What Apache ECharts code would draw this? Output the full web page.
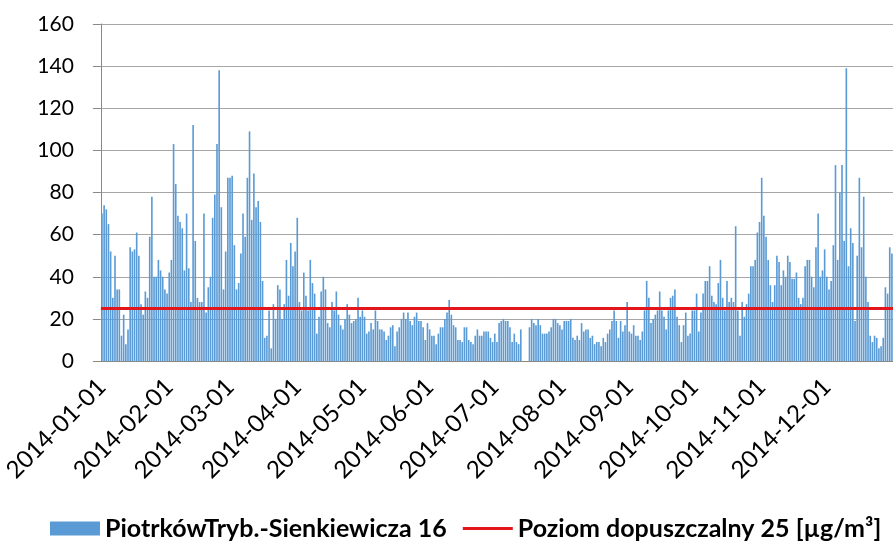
<!DOCTYPE html>
<html>
<head>
<meta charset="utf-8">
<script src="https://cdn.jsdelivr.net/npm/echarts@6/dist/echarts.min.js"></script>
<style>
  html, body { margin: 0; padding: 0; background: #fff; }
  #container { width: 893px; height: 544px; }
</style>
</head>
<body>
<div id="container"></div>
<script>
// daily PM values per month, 2014 (null = no measurement)
const jan = [70, 74, 72, 65, 52, 30, 50, 34, 34, 12, 22, 8, 15, 54, 52, 53, 61, 50, 27, 22, 33, 30, 59, 78, 40, 40, 48, 43, 40, 34, 32];
const feb = [42, 48, 103, 84, 69, 66, 63, 43, 70, 44, 28, 112, 57, 30, 28, 28, 70, 23, 35, 40, 68, 79, 103, 138, 73, 34, 52, 87];
const mar = [87, 88, 55, 34, 37, 51, 70, 59, 87, 109, 67, 89, 73, 76, 66, 38, 11, 12, 24, 6, 27, 20, 36, 34, 20, 27, 48, 31, 56, 45, 52];
const apr = [68, 28, 24, 42, 31, 24, 48, 37, 32, 13, 21, 33, 40, 34, 18, 16, 28, 24, 33, 22, 17, 15, 20, 27, 22, 18, 19, 20, 30, 21];
const may = [24, 21, 13, 14, 18, 15, 24, 19, 15, 15, 14, 10, 12, 16, 17, 7, 14, 16, 20, 23, 20, 23, 19, 17, 21, 23, 19, 19, 16, 10, 18];
const jun = [15, 12, 12, 8, 13, 16, 16, 20, 23, 29, 22, 17, 16, 10, 10, 9, 16, 16, 10, 9, 8, 12, 15, 12, 12, 14, 14, 14, 11, 9];
const jul = [13, 9, 18, 19, 20, 19, 19, 16, 9, 13, 9, 8, 15, null, null, null, 16, 20, 18, 17, 20, 17, 13, 13, 13, 14, 16, 20, 20, 18, 17];
const aug = [15, 19, 19, 19, 20, 11, 10, 12, 10, 18, 14, 15, 15, 11, 12, 8, 9, 9, 7, 11, 9, 13, 15, 19, 24, 19, 11, 19, 14, 17, 28];
const sep = [14, 13, 17, 12, 12, 10, 14, 24, 38, 30, 18, 20, 22, 24, 33, 24, 21, 15, 24, 30, 31, 34, 21, 17, 9, 17, 23, 12, 13, 24];
const oct = [24, 32, 14, 23, 32, 38, 38, 45, 31, 28, 27, 37, 48, 30, 24, 38, 28, 30, 28, 64, 24, 12, 28, 21, 27, 32, 45, 45, 48, 61, 66];
const nov = [87, 69, 59, 48, 36, 28, 36, 50, 47, 36, 43, 40, 50, 47, 39, 39, 42, 30, 27, 30, 45, 48, 48, 40, 35, 54, 70, 40, 43, 53];
const dec = [40, 34, 38, 55, 93, 48, 80, 93, 57, 139, 45, 63, 56, 19, 50, 87, 54, 78, 40, 28, 12, 9, 12, 11, 6, 7, 11, 35, 32, 54, 51];

const months = [jan, feb, mar, apr, may, jun, jul, aug, sep, oct, nov, dec];
const values = [].concat(...months);

// one category per day
const days = [];
months.forEach((m, mi) => {
    m.forEach((v, di) => {
        const mm = String(mi + 1).padStart(2, '0');
        const dd = String(di + 1).padStart(2, '0');
        days.push('2014-' + mm + '-' + dd);
    });
});

const limitValue = 25;
const stationName = 'PiotrkówTryb.-Sienkiewicza 16';
const limitName = 'Poziom dopuszczalny 25 [µg/m³]';

const isMonthStart = (idx) => days[idx].endsWith('-01');

var dom = document.getElementById('container');
var myChart = echarts.init(dom, null, { renderer: 'canvas' });

var option = {
    animation: false,
    grid: { left: 100, right: 0, top: 24, bottom: 183 },
    legend: {
        top: 516,
        left: 50,
        padding: 0,
        itemGap: 16,
        textStyle: { fontFamily: 'Lato', fontWeight: 'bold', fontSize: 25, color: '#000' },
        data: [
            { name: stationName, icon: 'rect', itemStyle: { color: '#5B9BD5' } },
            { name: limitName, icon: 'path://M0,0H52V3H0Z', itemStyle: { color: '#E3161B' } }
        ],
        itemWidth: 50,
        itemHeight: 14
    },
    xAxis: {
        type: 'category',
        data: days,
        boundaryGap: true,
        axisLine: { lineStyle: { color: '#888', width: 1 } },
        axisTick: { interval: isMonthStart, length: 7, lineStyle: { color: '#888' } },
        axisLabel: {
            interval: isMonthStart,
            rotate: 45,
            margin: 22,
            fontFamily: 'Lato',
            fontSize: 24,
            color: '#000'
        },
        splitLine: { show: false }
    },
    yAxis: {
        type: 'value',
        min: 0,
        max: 160,
        interval: 20,
        axisLine: { show: true, lineStyle: { color: '#888' } },
        axisTick: { show: true, length: 8, lineStyle: { color: '#888' } },
        axisLabel: { fontFamily: 'Lato', fontSize: 21, color: '#000', margin: 27 },
        splitLine: { lineStyle: { color: '#A6A6A6', width: 1 } }
    },
    series: [
        {
            name: stationName,
            type: 'bar',
            data: values,
            barCategoryGap: '25%',
            itemStyle: { color: '#5B9BD5' }
        },
        {
            name: limitName,
            type: 'line',
            data: [],
            symbol: 'none',
            itemStyle: { color: '#E3161B' },
            lineStyle: { color: '#E3161B', width: 3 },
            markLine: {
                silent: true,
                symbol: 'none',
                label: { show: false },
                lineStyle: { color: '#E3161B', width: 3, type: 'solid' },
                data: [{ yAxis: limitValue }]
            }
        }
    ]
};

myChart.setOption(option);
window.addEventListener('resize', myChart.resize);
</script>
</body>
</html>
